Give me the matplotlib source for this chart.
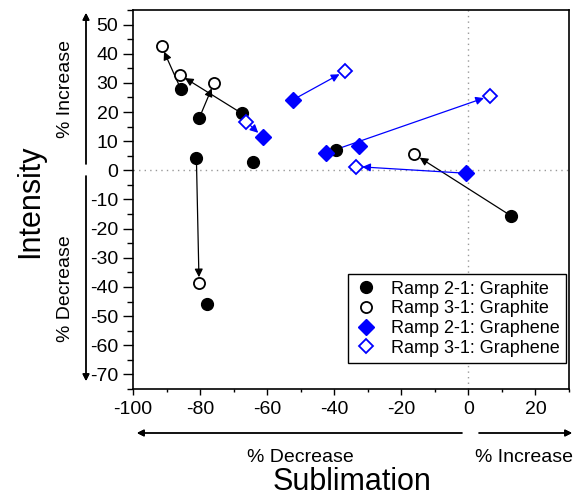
import matplotlib.pyplot as plt
from matplotlib.ticker import MultipleLocator

plt.rcParams['font.family'] = ['Liberation Sans', 'DejaVu Sans']
plt.rcParams['axes.unicode_minus'] = False

# Ramp 2-1 / Ramp 3-1, graphite (circles)
graphite_21_x = [-85.8, -80.3, -81.1, -67.5, -64.1, -39.4, -77.8, 12.7]
graphite_21_y = [28.0, 17.8, 4.3, 19.5, 2.7, 7.0, -45.8, -15.6]
graphite_31_x = [-91.5, -75.8, -80.3, -86.1, -16.1]
graphite_31_y = [42.7, 30.1, -38.8, 32.8, 5.5]
# (from index in 2-1, to index in 3-1)
graphite_links = [(0, 0), (1, 1), (2, 2), (3, 3), (7, 4)]

# Ramp 2-1 / Ramp 3-1, graphene (diamonds)
graphene_21_x = [-52.3, -61.3, -42.4, -32.7, -0.6]
graphene_21_y = [24.2, 11.4, 6.0, 8.3, -1.0]
graphene_31_x = [-36.8, -66.2, 6.4, -33.5]
graphene_31_y = [34.0, 16.7, 25.5, 1.3]
# (index in 2-1, index in 3-1, arrow points to 3-1?)
graphene_links = [(0, 0, True), (1, 1, False), (2, 2, True), (4, 3, True)]

W, H = 574, 497
fig = plt.figure(figsize=(W / 100, H / 100), dpi=100)
ax = fig.add_axes([133 / W, 1 - 389 / H, (569 - 133) / W, (389 - 10) / H])


def fpos(x, y):
    # pixel position (from top-left) -> figure fraction
    return (x / W, 1 - y / H)


def link(ax, p0, p1, color):
    ax.annotate('', xy=p1, xytext=p0,
                arrowprops=dict(arrowstyle='-|>', color=color, lw=0.9,
                                mutation_scale=12, shrinkA=0, shrinkB=4.5),
                zorder=3)


ax.axhline(0, color='#999999', lw=1, ls=(0, (1, 3)), zorder=1)
ax.axvline(0, color='#999999', lw=1, ls=(0, (1, 3)), zorder=1)

for i, j in graphite_links:
    link(ax, (graphite_21_x[i], graphite_21_y[i]),
         (graphite_31_x[j], graphite_31_y[j]), 'black')
for i, j, fwd in graphene_links:
    a = (graphene_21_x[i], graphene_21_y[i])
    b = (graphene_31_x[j], graphene_31_y[j])
    if fwd:
        link(ax, a, b, 'blue')
    else:
        link(ax, b, a, 'blue')

ax.plot(graphite_21_x, graphite_21_y, 'o', color='black', ms=8.5,
        ls='none', label='Ramp 2-1: Graphite', zorder=4)
ax.plot(graphite_31_x, graphite_31_y, 'o', mfc='white', mec='black', mew=1.3,
        ms=8, ls='none', label='Ramp 3-1: Graphite', zorder=5)
ax.plot(graphene_21_x, graphene_21_y, 'D', color='blue', ms=8.5,
        ls='none', label='Ramp 2-1: Graphene', zorder=4)
ax.plot(graphene_31_x, graphene_31_y, 'D', mfc='white', mec='blue', mew=1.3,
        ms=7.5, ls='none', label='Ramp 3-1: Graphene', zorder=5)

ax.set_xlim(-100, 30)
ax.set_ylim(-75, 55)
ax.set_xticks([-100, -80, -60, -40, -20, 0, 20])
ax.set_yticks(range(-70, 51, 10))
ax.xaxis.set_minor_locator(MultipleLocator(10))
ax.yaxis.set_minor_locator(MultipleLocator(5))
ax.tick_params(axis='both', which='both', direction='out', top=False, right=False,
               labelsize=14, width=1)
ax.tick_params(axis='x', which='major', length=4.2, pad=4.5)
ax.tick_params(axis='x', which='minor', length=2.2)
ax.tick_params(axis='y', which='major', length=7.5, pad=3)
ax.tick_params(axis='y', which='minor', length=4)
for s in ax.spines.values():
    s.set_linewidth(1.2)

leg = ax.legend(loc='lower right', bbox_to_anchor=(0.993, 0.0686), borderaxespad=0,
                fontsize=13, fancybox=False, edgecolor='black', framealpha=1,
                handlelength=1.2, handletextpad=0.8, labelspacing=0.15,
                borderpad=0.35)
leg.get_frame().set_linewidth(1)

# direction arrows and labels outside the axes
arr = dict(arrowstyle='-|>', color='black', lw=1, mutation_scale=10,
           shrinkA=0, shrinkB=0)
fig.add_artist(plt.annotate('', xy=fpos(86, 13), xytext=fpos(86, 164),
                            xycoords='figure fraction', arrowprops=arr))
fig.add_artist(plt.annotate('', xy=fpos(86, 381), xytext=fpos(86, 176),
                            xycoords='figure fraction', arrowprops=arr))
fig.add_artist(plt.annotate('', xy=fpos(137, 433), xytext=fpos(462, 433),
                            xycoords='figure fraction', arrowprops=arr))
fig.add_artist(plt.annotate('', xy=fpos(572, 433), xytext=fpos(479, 433),
                            xycoords='figure fraction', arrowprops=arr))

fig.text(*fpos(65, 89), '% Increase', rotation=90, fontsize=14,
         ha='center', va='center')
fig.text(*fpos(65, 289), '% Decrease', rotation=90, fontsize=14,
         ha='center', va='center')
fig.text(*fpos(300, 457), '% Decrease', fontsize=14, ha='center', va='center')
fig.text(*fpos(524, 457), '% Increase', fontsize=14, ha='center', va='center')
fig.text(*fpos(30, 201), 'Intensity', rotation=90, fontsize=22,
         ha='center', va='center')
fig.text(*fpos(352, 496.5), 'Sublimation', fontsize=22, ha='center', va='bottom')

fig.savefig('out.png', dpi=100)
